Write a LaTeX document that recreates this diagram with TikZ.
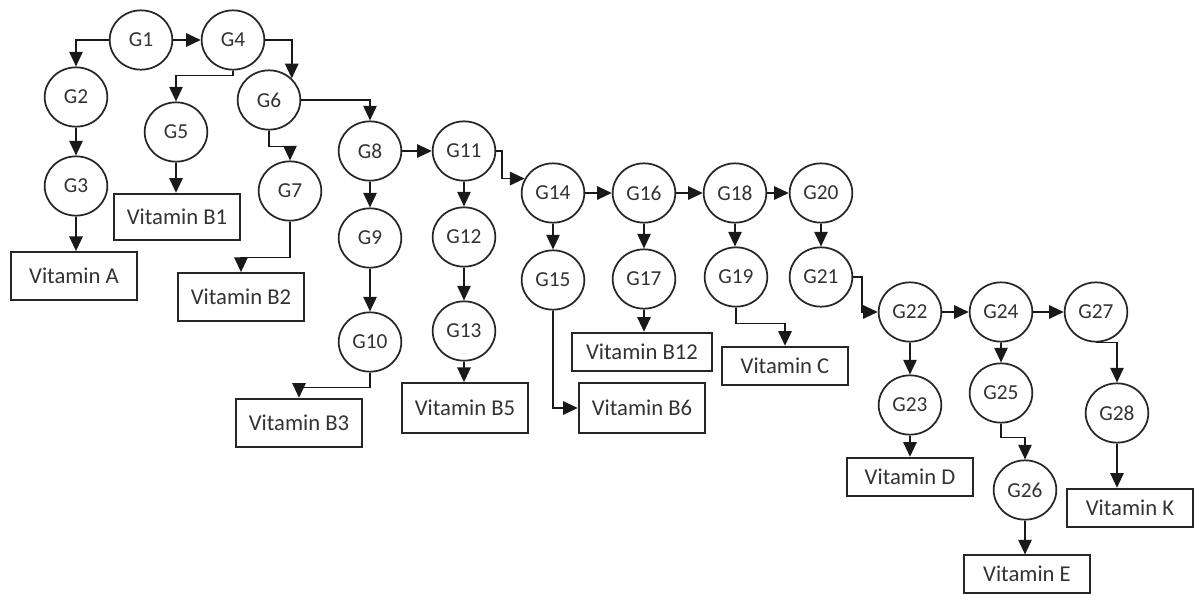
\documentclass[tikz,border=0pt]{standalone}
\usepackage{fontspec}
\setmainfont{Carlito}
\usetikzlibrary{shapes.geometric,arrows.meta,calc}
\begin{document}
\begin{tikzpicture}[x=0.75pt,y=-0.75pt,
 gn/.style={ellipse,draw=black!85,line width=1.3pt,fill=white,minimum width=47pt,minimum height=44.5pt,inner sep=0pt,font=\fontsize{16}{16}\selectfont,text=black!80},
 vb/.style={rectangle,draw=black!85,line width=1.3pt,fill=white,inner sep=0pt,font=\fontsize{17}{17}\selectfont,text=black!80},
 arr/.style={draw=black!90,line width=1.3pt,-{Triangle[length=11pt,width=10pt]}},
]
\useasboundingbox (0,0) rectangle (1204,594);
% gene nodes
\node[gn] (G1) at (141,40) {G1};
\node[gn] (G4) at (233,40) {G4};
\node[gn] (G2) at (76,97) {G2};
\node[gn] (G3) at (76,186) {G3};
\node[gn] (G5) at (176,132) {G5};
\node[gn] (G6) at (269,100) {G6};
\node[gn] (G7) at (290,191) {G7};
\node[gn] (G8) at (370,151) {G8};
\node[gn] (G9) at (370,238) {G9};
\node[gn] (G10) at (370,342) {G10};
\node[gn] (G11) at (464,151) {G11};
\node[gn] (G12) at (464,237) {G12};
\node[gn] (G13) at (464,331) {G13};
\node[gn] (G14) at (553,193) {G14};
\node[gn] (G15) at (553,280) {G15};
\node[gn] (G16) at (644,193) {G16};
\node[gn] (G17) at (644,279) {G17};
\node[gn] (G18) at (735,193) {G18};
\node[gn] (G19) at (736,277) {G19};
\node[gn] (G20) at (821,193) {G20};
\node[gn] (G21) at (821,277) {G21};
\node[gn] (G22) at (910,312) {G22};
\node[gn] (G23) at (910,405) {G23};
\node[gn] (G24) at (1001,312) {G24};
\node[gn] (G25) at (1001,393) {G25};
\node[gn] (G26) at (1025,490) {G26};
\node[gn] (G27) at (1096,312) {G27};
\node[gn] (G28) at (1117,413) {G28};
% vitamin boxes
\node[vb,minimum width=94.5pt,minimum height=36pt] (VA) at (74,276) {Vitamin A};
\node[vb,minimum width=94.5pt,minimum height=35pt] (VB1) at (177,217) {Vitamin B1};
\node[vb,minimum width=95pt,minimum height=36pt] (VB2) at (241,297) {Vitamin B2};
\node[vb,minimum width=95pt,minimum height=36.5pt] (VB3) at (299,423) {Vitamin B3};
\node[vb,minimum width=94.5pt,minimum height=37.5pt] (VB5) at (465,408) {Vitamin B5};
\node[vb,minimum width=95pt,minimum height=37.5pt] (VB6) at (642,408) {Vitamin B6};
\node[vb,minimum width=105.5pt,minimum height=29pt] (VB12) at (642,352) {Vitamin B12};
\node[vb,minimum width=95pt,minimum height=29pt] (VC) at (785,366) {Vitamin C};
\node[vb,minimum width=95pt,minimum height=29pt] (VD) at (910,477) {Vitamin D};
\node[vb,minimum width=95pt,minimum height=28pt] (VE) at (1027,574) {Vitamin E};
\node[vb,minimum width=95pt,minimum height=29pt] (VK) at (1130,508) {Vitamin K};
% connectors
\draw[arr] (G1.west) -| (G2.north);
\draw[arr] (G1) -- (G4);
\draw[arr] (G4.south) -- ++(0,5) -| (G5.north);
\draw[arr] (G4.east) -| (G6.north east);
\draw[arr] (G2) -- (G3);
\draw[arr] (G3.south) -- (G3.south |- VA.north);
\draw[arr] (G5.south) -- (G5.south |- VB1.north);
\draw[arr] (G6.south) -- ++(0,16) -| (G7.north);
\draw[arr] (G6.east) -| (G8.north);
\draw[arr] (G7.south) -- ++(0,36) -| (VB2.north);
\draw[arr] (G8) -- (G9);
\draw[arr] (G9) -- (G10);
\draw[arr] (G8) -- (G11);
\draw[arr] (G10.south) -- ++(0,15) -| (VB3.north);
\draw[arr] (G11) -- (G12);
\draw[arr] (G12) -- (G13);
\draw[arr] (G13.south) -- (G13.south |- VB5.north);
\draw[arr] (G11.east) -- ++(6,0) |- (G14.153);
\draw[arr] (G14) -- (G15);
\draw[arr] (G14) -- (G16);
\draw[arr] (G16) -- (G18);
\draw[arr] (G18) -- (G20);
\draw[arr] (G15.south) |- (VB6.west);
\draw[arr] (G16) -- (G17);
\draw[arr] (G17.south) -- (G17.south |- VB12.north);
\draw[arr] (G18.south) -- (G18.south |- G19.north);
\draw[arr] (G19.south) -- ++(0,16) -| (VC.north);
\draw[arr] (G20) -- (G21);
\draw[arr] (G21.east) -- ++(9,0) |- (G22.west);
\draw[arr] (G22) -- (G24);
\draw[arr] (G24) -- (G27);
\draw[arr] (G22) -- (G23);
\draw[arr] (G23) -- (VD);
\draw[arr] (G24) -- (G25);
\draw[arr] (G25.south) -- ++(0,14) -| (G26.north);
\draw[arr] (G26.south) -- (G26.south |- VE.north);
\draw[arr] (G27.south) -| (G28.north);
\draw[arr] (G28.south) -- (G28.south |- VK.north);
\end{tikzpicture}
\end{document}
